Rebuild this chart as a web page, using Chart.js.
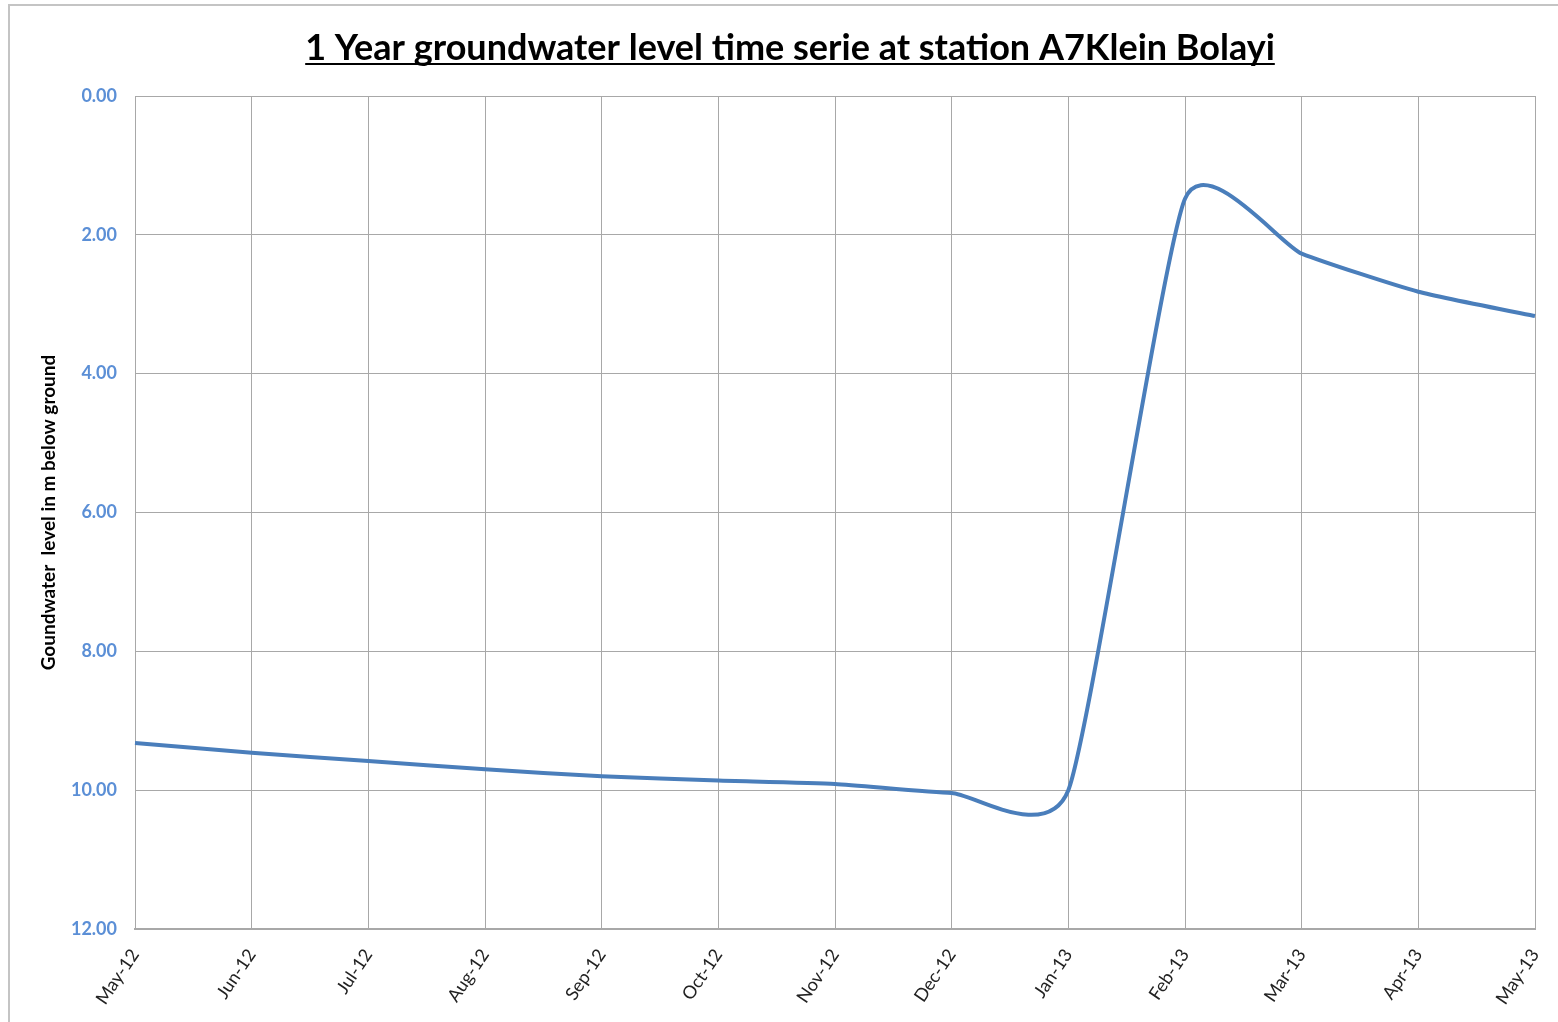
<!DOCTYPE html>
<html>
<head>
<meta charset="utf-8">
<script src="https://cdn.jsdelivr.net/npm/chart.js@4.4.1/dist/chart.umd.min.js"></script>
<style>
  html, body { margin: 0; padding: 0; background: #fff; }
  #wrap { position: relative; width: 1558px; height: 1022px; }
</style>
</head>
<body>
<div id="wrap"><canvas id="myChart"></canvas></div>
<script>
// months on the x axis
const months = ['May-12', 'Jun-12', 'Jul-12', 'Aug-12', 'Sep-12', 'Oct-12', 'Nov-12',
                'Dec-12', 'Jan-13', 'Feb-13', 'Mar-13', 'Apr-13', 'May-13'];

// groundwater level, m below ground
const levels = [9.32, 9.46, 9.58, 9.70, 9.80, 9.86, 9.91, 10.04, 10.00, 1.48, 2.27, 2.82, 3.17];

// y ticks 0.00 .. 12.00
const yMin = 0;
const yMax = 12;
const yStep = 2;

const chartTitle = '1 Year groundwater level time serie at station A7Klein Bolayi';
const yTitle = 'Goundwater  level in m below ground';

// Excel-like smoothing: plain catmull-rom style control points
// (Chart.js's own spline weights by distance and kinks on the big jump)
const smoothFactor = 0.09;

const smoothPlugin = {
  id: 'smoothPlugin',
  beforeDatasetDraw(chart, args) {
    const meta = args.meta;
    const line = meta.dataset;
    line.updateControlPoints(chart.chartArea, 'x');
    const pts = meta.data;
    for (let i = 0; i < pts.length; i++) {
      const prev = pts[Math.max(i - 1, 0)];
      const next = pts[Math.min(i + 1, pts.length - 1)];
      const dx = next.x - prev.x;
      const dy = next.y - prev.y;
      pts[i].cp1x = pts[i].x - smoothFactor * dx;
      pts[i].cp1y = pts[i].y - smoothFactor * dy;
      pts[i].cp2x = pts[i].x + smoothFactor * dx;
      pts[i].cp2y = pts[i].y + smoothFactor * dy;
    }
    line._path = undefined;
  }
};

// title with underline + outer frame (Chart.js title can't underline)
const framePlugin = {
  id: 'framePlugin',
  afterDraw(chart) {
    const ctx = chart.ctx;
    ctx.save();
    ctx.strokeStyle = '#c4c4c4';
    ctx.lineWidth = 2;
    ctx.strokeRect(9, 5, 1580, 1040);

    ctx.font = 'bold 36px Lato';
    ctx.fillStyle = '#000';
    ctx.textAlign = 'center';
    ctx.textBaseline = 'alphabetic';
    const cx = 790, cy = 60;
    ctx.fillText(chartTitle, cx, cy);
    const w = ctx.measureText(chartTitle).width;
    ctx.beginPath();
    ctx.lineWidth = 2;
    ctx.strokeStyle = '#000';
    ctx.moveTo(cx - w / 2, cy + 4);
    ctx.lineTo(cx + w / 2, cy + 4);
    ctx.stroke();
    ctx.restore();
  }
};

const ctx = document.getElementById('myChart');

let lineChart = new Chart(ctx, {
  type: 'line',
  data: {
    labels: months,
    datasets: [{
      label: 'Groundwater level',
      data: levels,
      borderColor: '#4a7ebb',
      borderWidth: 4,
      pointRadius: 0,
      tension: 0.5,
      fill: false
    }]
  },
  options: {
    responsive: true,
    maintainAspectRatio: false,
    animation: false,
    layout: { padding: { top: 96, right: 23, bottom: 0, left: 0 } },
    plugins: {
      legend: { display: false },
      title: { display: false },
      tooltip: { enabled: false }
    },
    scales: {
      x: {
        offset: false,
        grid: { color: '#a8a8a8', lineWidth: 1, drawTicks: false },
        border: { color: '#a8a8a8', width: 2 },
        ticks: {
          color: '#222',
          font: { family: 'Lato', size: 18 },
          minRotation: 56,
          maxRotation: 56,
          padding: 16,
          autoSkip: false
        },
        afterFit(scale) {
          scale.height = 93;
          // rotated labels sit left of their tick, no extra room needed
          scale.paddingLeft = 0;
          scale.paddingRight = 0;
        }
      },
      y: {
        reverse: true,
        min: yMin,
        max: yMax,
        grid: { color: '#a8a8a8', lineWidth: 1, drawTicks: false },
        border: { color: '#a8a8a8', width: 1 },
        ticks: {
          stepSize: yStep,
          color: '#5b8fd6',
          font: { family: 'Lato', size: 18, weight: 'bold' },
          padding: 18,
          callback: v => v.toFixed(2)
        },
        title: {
          display: true,
          text: yTitle,
          color: '#000',
          font: { family: 'Lato', size: 19, weight: 'bold' },
          padding: { top: 37, bottom: 0 }
        },
        afterFit(scale) { scale.width = 135; }
      }
    }
  },
  plugins: [smoothPlugin, framePlugin]
});
</script>
</body>
</html>
